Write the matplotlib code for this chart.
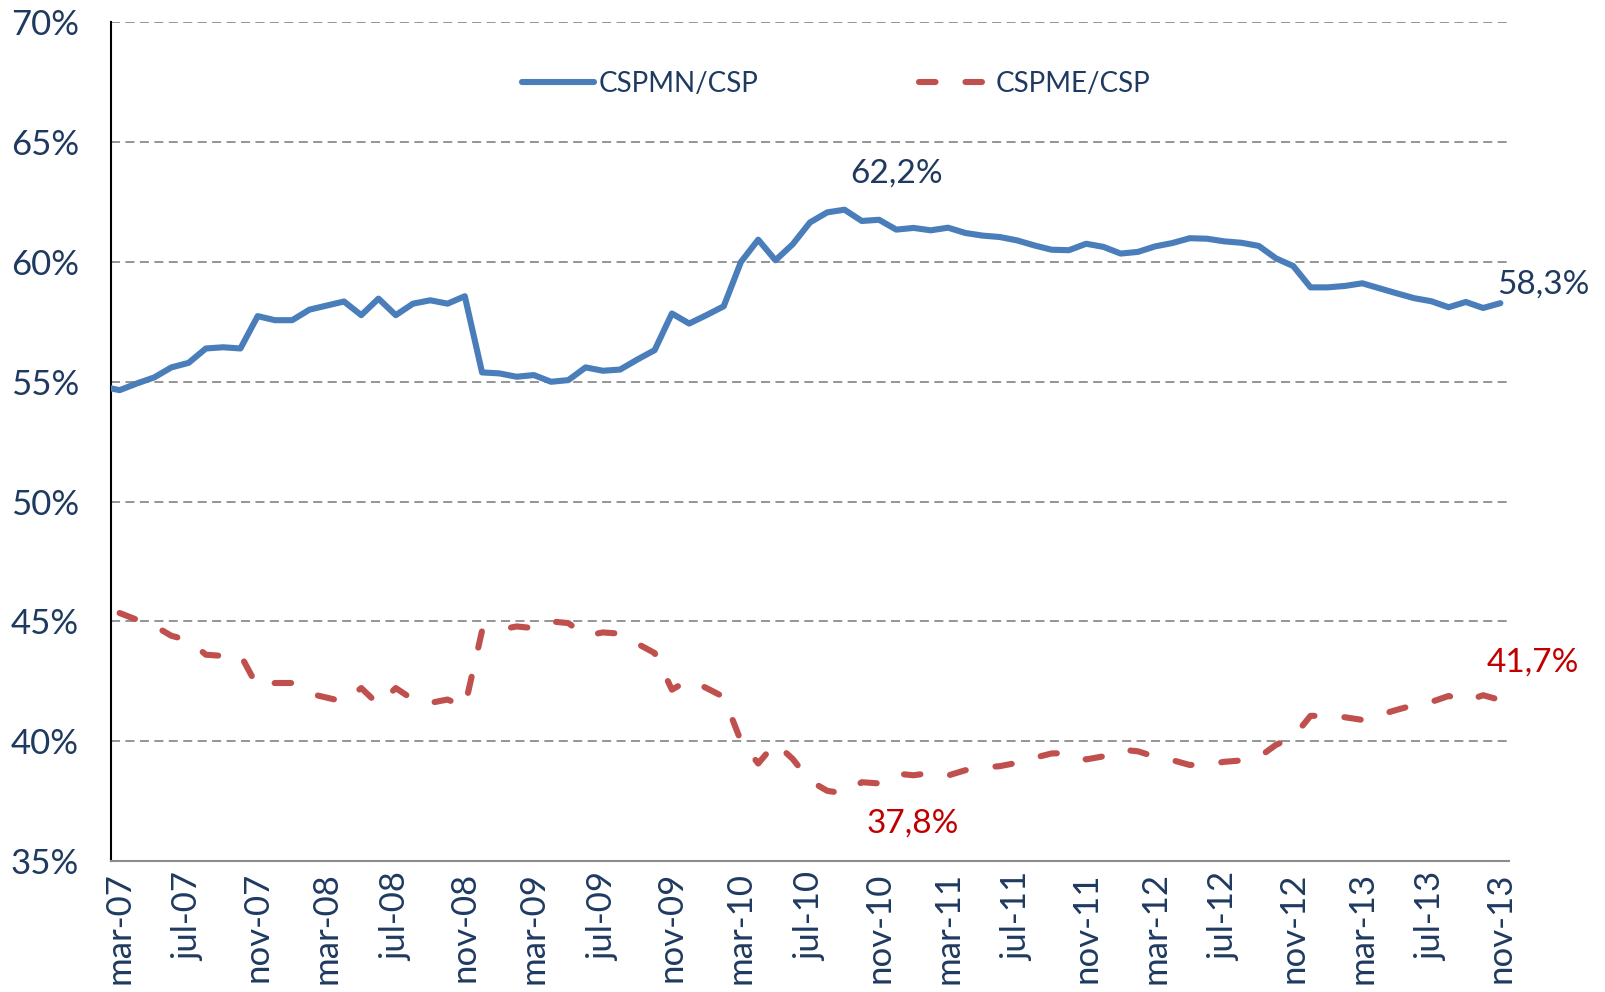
import numpy as np
import matplotlib
matplotlib.use("Agg")
import matplotlib.pyplot as plt

# Monthly series feb-07 .. nov-13 (feb-07 only partially visible, clipped by the axis)
cspmn = [54.80,
         54.65, 54.93, 55.18, 55.60, 55.79, 56.39, 56.44, 56.39, 57.74, 57.57,
         57.57, 58.01, 58.18, 58.35, 57.78, 58.47, 57.78, 58.26, 58.40, 58.26,
         58.57, 55.39, 55.35, 55.21, 55.28, 55.00, 55.07, 55.60, 55.46, 55.51,
         55.93, 56.32, 57.85, 57.43, 57.78, 58.15, 60.00, 60.93, 60.07, 60.74,
         61.65, 62.07, 62.18, 61.71, 61.76, 61.35, 61.42, 61.32, 61.43, 61.21,
         61.10, 61.04, 60.90, 60.69, 60.51, 60.49, 60.76, 60.63, 60.35, 60.42,
         60.65, 60.79, 60.99, 60.97, 60.86, 60.80, 60.67, 60.15, 59.83, 58.94,
         58.94, 59.00, 59.11, 58.90, 58.69, 58.49, 58.36, 58.11, 58.33, 58.08,
         58.28]
cspme = [np.nan,
         45.35, 45.07, 44.82, 44.40, 44.21, 43.61, 43.56, 43.61, 42.26, 42.43,
         42.43, 41.99, 41.82, 41.65, 42.22, 41.53, 42.22, 41.74, 41.60, 41.74,
         41.43, 44.61, 44.65, 44.79, 44.72, 45.00, 44.93, 44.40, 44.54, 44.49,
         44.07, 43.68, 42.15, 42.57, 42.22, 41.85, 40.00, 39.07, 39.93, 39.26,
         38.35, 37.93, 37.82, 38.29, 38.24, 38.65, 38.58, 38.68, 38.57, 38.79,
         38.90, 38.96, 39.10, 39.31, 39.49, 39.51, 39.24, 39.37, 39.65, 39.58,
         39.35, 39.21, 39.01, 39.03, 39.14, 39.20, 39.33, 39.85, 40.17, 41.06,
         41.06, 41.00, 40.89, 41.10, 41.31, 41.51, 41.64, 41.89, 41.67, 41.92,
         41.72]
tick_labels = ["mar-07", "jul-07", "nov-07", "mar-08", "jul-08", "nov-08",
               "mar-09", "jul-09", "nov-09", "mar-10", "jul-10", "nov-10",
               "mar-11", "jul-11", "nov-11", "mar-12", "jul-12", "nov-12",
               "mar-13", "jul-13", "nov-13"]
y_ticks = [35, 40, 45, 50, 55, 60, 65, 70]
series_names = ["CSPMN/CSP", "CSPME/CSP"]

FONT = "Lato"
NAVY = "#1F3A60"
BLUE = "#4A7EBB"
RED = "#C0504D"
DARKRED = "#C00000"

fig = plt.figure(figsize=(16.06, 9.92), dpi=100)
ax = fig.add_axes([0.0691, 0.132, 0.8705, 0.8455])

x = np.arange(-1, len(cspmn) - 1)
ax.plot(x, cspmn, color=BLUE, lw=4.4, solid_capstyle="round",
        solid_joinstyle="round", label=series_names[0], zorder=3)
ax.plot(x, cspme, color=RED, lw=4.4, dashes=(2.7, 4.9), dash_capstyle="round",
        label=series_names[1], zorder=3)

ax.set_xlim(-0.5, 80.5)
ax.set_ylim(35, 70)
ax.set_yticks(y_ticks)
ax.set_yticklabels([f"{v}%" for v in y_ticks], fontsize=25, color=NAVY, family=FONT)
ax.set_xticks(np.arange(0, 81, 4))
ax.set_xticklabels(tick_labels, rotation=90, fontsize=25, color=NAVY, family=FONT)
ax.tick_params(axis="both", length=0)
ax.tick_params(axis="y", pad=23)
ax.tick_params(axis="x", pad=8)

for v in y_ticks[1:]:
    ax.axhline(v, color="#8C8C8C", lw=1.3, dashes=(5, 3), zorder=1)

for s in ["top", "right"]:
    ax.spines[s].set_visible(False)
ax.spines["left"].set_color("black")
ax.spines["left"].set_linewidth(1.5)
ax.spines["bottom"].set_color("#8C8C8C")
ax.spines["bottom"].set_linewidth(1.5)

leg = ax.legend(loc="center left", bbox_to_anchor=(0.276, 0.927), ncol=2,
                frameon=False, handlelength=2.6, handletextpad=0.15,
                columnspacing=5.8, prop={"family": FONT, "size": 20})
for t in leg.get_texts():
    t.set_color(NAVY)

# data labels
ax.annotate("62,2%", xy=(42, cspmn[43]), xytext=(52, 36), textcoords="offset pixels",
            ha="center", va="center", fontsize=24, color=NAVY, family=FONT)
ax.annotate("58,3%", xy=(80, cspmn[81]), xytext=(-3, 19), textcoords="offset pixels",
            ha="left", va="center", fontsize=24, color=NAVY, family=FONT,
            annotation_clip=False)
ax.annotate("41,7%", xy=(80, cspme[81]), xytext=(32, 37), textcoords="offset pixels",
            ha="center", va="center", fontsize=24, color=DARKRED, family=FONT,
            annotation_clip=False)
ax.annotate("37,8%", xy=(42, cspme[43]), xytext=(68, -30), textcoords="offset pixels",
            ha="center", va="center", fontsize=24, color=DARKRED, family=FONT)

fig.savefig("out.png", dpi=100)
